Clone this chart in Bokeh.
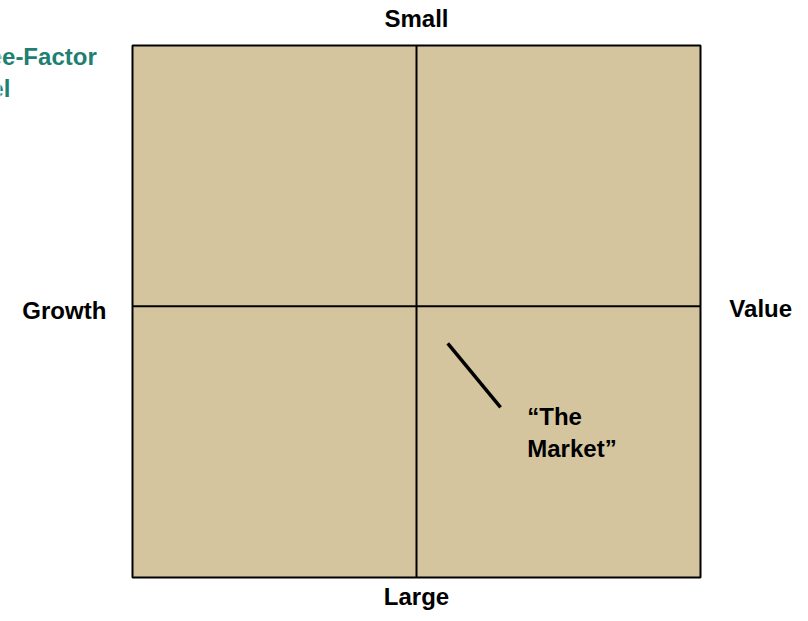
from bokeh.plotting import figure
from bokeh.models import Range1d
from bokeh.core.properties import value
from bokeh.embed import file_html
from bokeh.resources import INLINE

# ---- data (box coordinates in percent: Growth->Value on x, Large->Small on y)
box_left, box_right, box_bottom, box_top = [0], [100], [0], [100]
divider_x = 50
divider_y = 51

axis_labels = ["Small", "Large", "Growth", "Value"]
axis_label_x = [50, 50, -12.0, 110.6]
axis_label_y = [105.0, -3.6, 50.2, 50.6]

title_lines = ["Three-Factor", "Model"]
title_x = [-6.3, -21.5]
title_y = [97.9, 91.9]

market_x = [55.5, 64.8]
market_y = [44.0, 32.0]
market_lines = ["\u201cThe", "Market\u201d"]
market_text_x = [69.5, 69.5]
market_text_y = [30.3, 24.3]

W, H = 808, 621
p = figure(width=W, height=H, output_backend="svg", toolbar_location=None,
           x_range=Range1d(-132 / 5.68, (W - 132) / 5.68),
           y_range=Range1d((577 - H) / 5.32, 577 / 5.32),
           min_border=0, outline_line_color=None)
p.axis.visible = False
p.grid.visible = False
p.background_fill_color = "white"
p.border_fill_color = "white"

p.quad(left=box_left, right=box_right, bottom=box_bottom, top=box_top,
       fill_color="#D4C59E", line_color="black", line_width=2)
p.segment(x0=[divider_x, box_left[0]], y0=[box_bottom[0], divider_y],
          x1=[divider_x, box_right[0]], y1=[box_top[0], divider_y],
          line_color="black", line_width=2)

p.line(x=market_x, y=market_y, line_color="black", line_width=3.5)

font = value("Liberation Sans")
p.text(x=axis_label_x, y=axis_label_y, text=axis_labels, text_font=font,
       text_font_style="bold", text_font_size="24px", text_align="center",
       text_baseline="middle", text_color="black")

p.text(x=title_x, y=title_y, text=title_lines, text_font=font,
       text_font_style="bold", text_font_size="24px", text_align="right",
       text_baseline="middle", text_color="#1E7F72")

p.text(x=market_text_x, y=market_text_y, text=market_lines, text_font=font,
       text_font_style="bold", text_font_size="24px", text_align="left",
       text_baseline="middle", text_color="black")

open("out.html", "w").write(file_html(p, INLINE))
